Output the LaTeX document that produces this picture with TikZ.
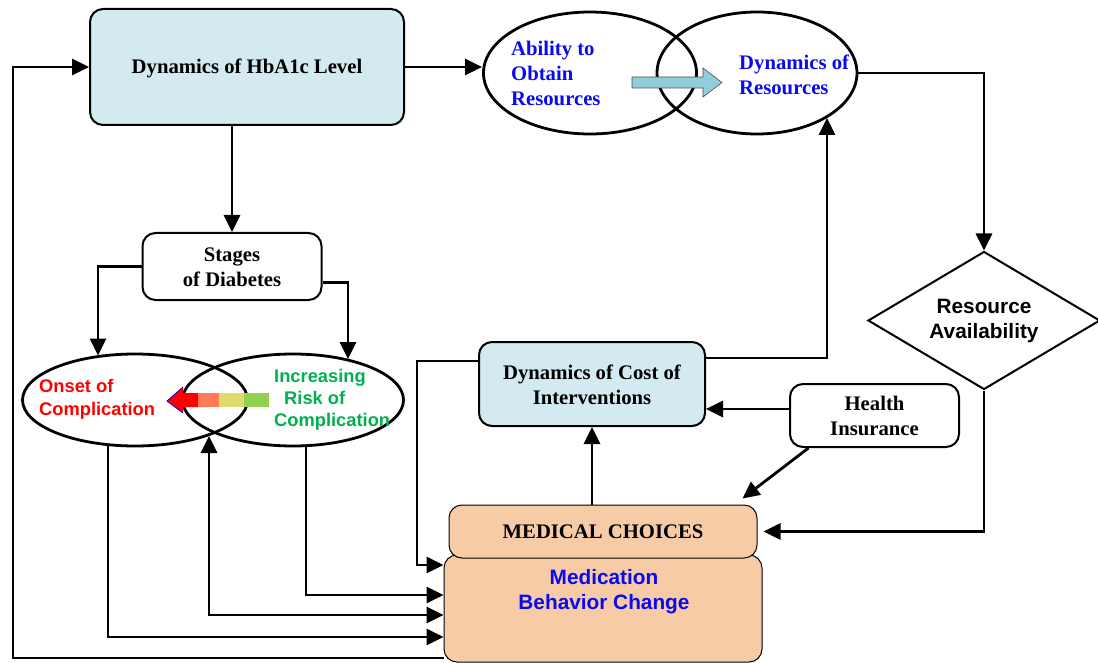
\documentclass[tikz,border=0pt]{standalone}
\usepackage{fontspec}
\setmainfont{Liberation Serif}
\setsansfont{Liberation Sans}
\usetikzlibrary{shapes.geometric,arrows.meta,calc}
\definecolor{boxblue}{HTML}{D2EAF0}
\definecolor{peach}{HTML}{F8CBA7}
\definecolor{arrcyan}{HTML}{92CDDC}
\definecolor{txtblue}{HTML}{0A0AF0}
\definecolor{txtgreen}{HTML}{00B050}
\definecolor{segorange}{HTML}{FF7A55}
\definecolor{segyellow}{HTML}{DEDC6C}
\definecolor{seggreen}{HTML}{92D050}
\begin{document}
\begin{tikzpicture}[x=1pt,y=-1pt,
  conn/.style={line width=2.8pt,-{Triangle[length=17pt,width=16pt]}},
  connboth/.style={line width=2.8pt,{Triangle[length=17pt,width=16pt]}-{Triangle[length=17pt,width=16pt]}},
  rbox/.style={draw,line width=2pt,rounded corners=13pt,inner sep=0pt},
  ell/.style={draw,ellipse,line width=2.8pt,inner sep=0pt},
  serifb/.style={font=\fontsize{20.7}{25}\selectfont\bfseries,inner sep=0pt},
  sansb/.style={font=\fontsize{20.8}{25}\selectfont\sffamily\bfseries,inner sep=0pt},
  sanssm/.style={font=\fontsize{18.3}{23}\selectfont\sffamily\bfseries,inner sep=0pt}]
\useasboundingbox (0,0) rectangle (1098,663);

% boxes
\node[rbox,fill=boxblue,minimum width=314pt,minimum height=116pt] (hba) at (247,67) {};
\node[serifb] (hbat) at (247,68) {Dynamics of HbA1c Level};

\node[ell,minimum width=213pt,minimum height=122pt] (abil) at (590,73) {};
\node[ell,minimum width=200pt,minimum height=122pt] (dynres) at (757,73) {};
\node[serifb,text=txtblue,align=left,anchor=west] (abilt) at (511,73.5) {Ability to\\Obtain\\Resources};
\node[serifb,text=txtblue,align=left,anchor=west] (dynrest) at (739,75) {Dynamics of\\Resources};
\draw[fill=arrcyan,draw=black!70,line width=0.6pt] (632,77) -- (703,77) -- (703,68) -- (722,82.5) -- (703,97) -- (703,88) -- (632,88) -- cycle;

\node[rbox,minimum width=179pt,minimum height=67pt] (stages) at (232,266.5) {};
\node[serifb,align=center] (stagest) at (232,267.5) {Stages\\of Diabetes};

\node[ell,minimum width=225pt,minimum height=92pt] (onset) at (135,400) {};
\node[ell,minimum width=221pt,minimum height=92pt] (incr) at (293,400) {};
\node[sanssm,text=red,align=left,anchor=west] (onsett) at (39,399.5) {Onset of\\Complication};
\node[sanssm,text=txtgreen,align=left,anchor=west,font=\fontsize{18.3}{22}\selectfont\sffamily\bfseries] (incrt) at (274,399.5) {Increasing\\\hspace*{10pt}Risk of\\Complication};

% gradient arrow
\fill[red] (167,401) -- (183,387) -- (183,393) -- (198,393) -- (198,407) -- (183,407) -- (183,413) -- cycle;
\draw[blue,line width=0.8pt] (183,387) -- (167,401) -- (183,413);
\fill[segorange] (198,393) rectangle (219,407);
\fill[segyellow] (219,393) rectangle (244,407);
\fill[seggreen] (244,393) rectangle (269,407);

\node[rbox,fill=boxblue,minimum width=226pt,minimum height=84pt] (cost) at (592,384) {};
\node[serifb,align=center] (costt) at (592,384.5) {Dynamics of Cost of\\Interventions};

\node[rbox,minimum width=169pt,minimum height=63pt] (hins) at (874.5,415.5) {};
\node[serifb,align=center] (hinst) at (874.5,416) {Health\\Insurance};

\node[draw,diamond,line width=2pt,inner sep=0pt,aspect=1.68,minimum width=232pt,minimum height=138pt] (ra) at (984,320.5) {};
\node[sansb,align=center] (rat) at (984,321.5) {Resource\\Availability};

\node[rbox,fill=peach,line width=1pt,minimum width=318pt,minimum height=107pt] (mbc) at (603,608.5) {};
\node[rbox,fill=peach,line width=1pt,minimum width=308pt,minimum height=53pt] (mc) at (603,531.5) {};
\node[serifb] (mct) at (603,531.5) {MEDICAL CHOICES};
\node[sansb,text=txtblue,align=center] (mbct) at (604,591.5) {Medication\\Behavior Change};

% helper coordinates
\coordinate (yL) at (0,658);
\coordinate (y637) at (0,637);
\coordinate (y615) at (0,615);
\coordinate (y595) at (0,595);
\coordinate (y565) at (0,565);
\coordinate (y361) at (0,361);
\coordinate (y358) at (0,358);
\coordinate (y409) at (0,409);
\coordinate (onsetTop) at ($(onset.center)+(-37,-44.5)$);
\coordinate (incrTop) at ($(incr.center)+(55,-41)$);
\coordinate (onsetBot) at ($(onset.center)+(-27,45.5)$);
\coordinate (incrBot) at ($(incr.center)+(13,46.5)$);
\coordinate (dblTop) at ($(onset.center)+(74,36)$);
\coordinate (dynresBot) at ($(dynres.center)+(70,45)$);
\coordinate (hinsBL) at ($(hins.south)+(-66,0)$);
\coordinate (mcTip) at ($(mc.north east)+(-15,-6)$);
\coordinate (mcE) at ($(mc.east)+(6,0)$);

% connectors
\draw[conn] (hba.east) -- (hba.east -| abil.west);
\draw[conn] (mbc.west |- yL) -- (13,658) |- (hba.west);
\draw[conn] (hba.south -| stages.north) -- (stages.north);
\draw[conn] (stages.west) -| (onsetTop);
\draw[conn] ($(stages.east)+(0,16)$) -| (incrTop);
\draw[conn] (onsetBot) |- (mbc.west |- y637);
\draw[connboth] (dblTop) |- (mbc.west |- y615);
\draw[conn] (incrBot) |- (mbc.west |- y595);
\draw[conn] (cost.west |- y361) -- (417,361) |- (mbc.west |- y565);
\draw[conn] (cost.east |- y358) -| (dynresBot);
\draw[conn] (hins.west |- y409) -- (cost.east |- y409);
\draw[conn] (hinsBL) -- (mcTip);
\draw[conn] (mc.north -| cost.south) -- (cost.south);
\draw[conn] (dynres.east) -| (ra.north);
\draw[conn] (ra.south) |- (mcE);
\end{tikzpicture}
\end{document}
